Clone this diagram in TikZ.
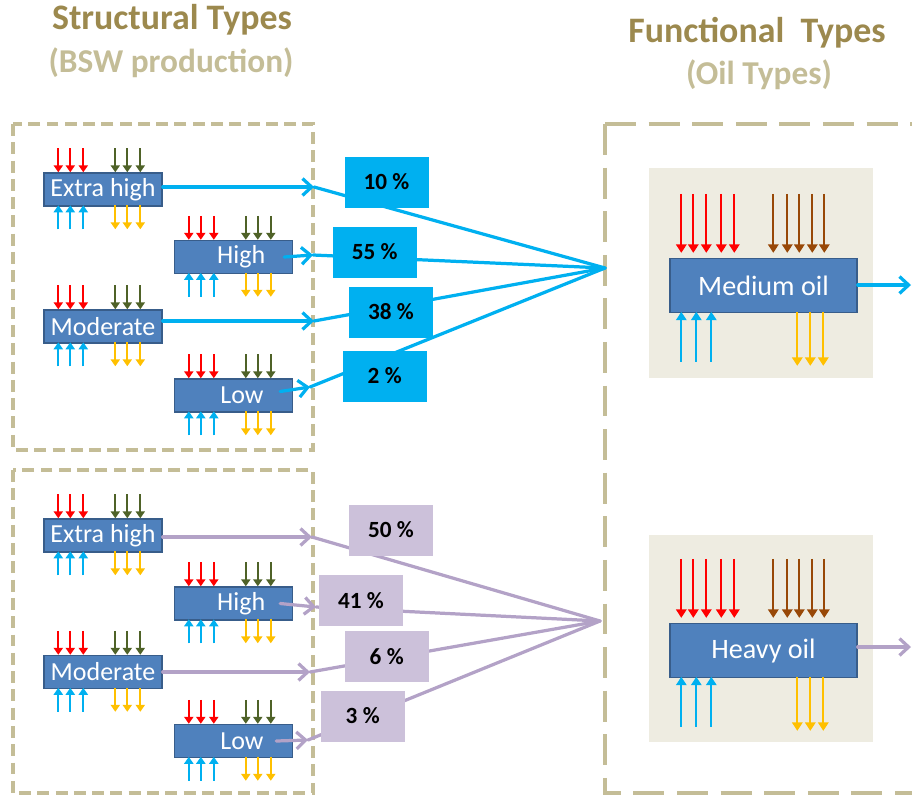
\documentclass[tikz,border=0pt]{standalone}
\usepackage{fontspec}
\setmainfont{Carlito}
\usetikzlibrary{arrows.meta}

\definecolor{boxblue}{HTML}{4F81BD}
\definecolor{boxedge}{HTML}{385D8A}
\definecolor{cyanline}{HTML}{00B0F0}
\definecolor{lilacline}{HTML}{B3A2C7}
\definecolor{lilacfill}{HTML}{CCC1DA}
\definecolor{tanfill}{HTML}{EEECE1}
\definecolor{tandash}{HTML}{C4BD97}
\definecolor{titlegold}{RGB}{156,137,78}
\definecolor{flowred}{HTML}{FF0000}
\definecolor{flowgreen}{HTML}{4F6228}
\definecolor{flowbrown}{HTML}{984807}
\definecolor{flowyellow}{HTML}{FFC000}

\def\px{0.025cm}	% one pixel of the layout

\tikzset{
	typebox/.style = {draw = boxedge, fill = boxblue, line width = 1pt, text = white, inner sep = 0pt,
		minimum width = 118*\px, minimum height = 33*\px, font = \fontsize{18.5}{20}\selectfont},
	oilbox/.style = {typebox, minimum width = 187*\px, minimum height = 54*\px, font = \fontsize{20}{22}\selectfont},
	share/.style = {inner sep = 0pt, minimum width = 84*\px, minimum height = 51*\px, font = \fontsize{16.5}{18}\selectfont\bfseries},
	tick/.style = {line width = 1.4pt, -{Triangle[length = 5pt, width = 6.5pt]}},
	oiltick/.style = {line width = 1.2pt, -{Triangle[length = 6pt, width = 7.5pt]}},
	link/.style = {line width = 2.3pt, line cap = round},
	feed/.style = {link, -{Straight Barb[length = 6.5pt, width = 12pt]}},
	frame/.style = {draw = tandash, line width = 2.4pt, dash pattern = on 8.5pt off 4.5pt},
	heading/.style = {font = \fontsize{25.5}{28}\selectfont\bfseries},
	subheading/.style = {font = \fontsize{23.7}{26}\selectfont\bfseries, text = tandash}
}

% Small arrows round one structural box

\newcommand{\typeticks}[1]{%
	\begin{scope}[shift = {(#1.north west)}]
		\foreach \dx in {15, 27, 40} {
			\draw [tick, flowred] (\dx, -24) -- (\dx, 0);
			\draw [tick, cyanline] (\dx, 57) -- (\dx, 33);
		}
		\foreach \dx in {72, 84, 97} {
			\draw [tick, flowgreen] (\dx, -24) -- (\dx, 0);
			\draw [tick, flowyellow] (\dx, 33) -- (\dx, 57);
		}
	\end{scope}}

% Arrows round one oil box

\newcommand{\oilticks}[1]{%
	\begin{scope}[shift = {(#1.north west)}]
		\foreach \dx in {12, 24, 37, 52, 65}
			\draw [oiltick, flowred] (\dx, -64) -- (\dx, -5);
		\foreach \dx in {104, 118, 130, 143, 155}
			\draw [oiltick, flowbrown] (\dx, -64) -- (\dx, -5);
		\foreach \dx in {12, 27, 42}
			\draw [oiltick, cyanline] (\dx, 104) -- (\dx, 54);
		\foreach \dx in {128, 141, 154}
			\draw [oiltick, flowyellow] (\dx, 54) -- (\dx, 108);
	\end{scope}}

\begin{document}
\begin{tikzpicture}[x = \px, y = -\px]

	\useasboundingbox (0, 0) rectangle (912, 796);

	% Headings

	\node [heading, text = titlegold] (struct) at (172, 20) {Structural Types};
	\node [subheading] (bsw) at (171, 63) {(BSW production)};
	\node [heading, text = titlegold] (func) at (757, 33) {Functional\ \ Types};
	\node [subheading] (oils) at (759, 75) {(Oil Types)};

	% Frames

	\draw [frame] (13, 124) rectangle (313, 450);
	\draw [frame] (13, 470) rectangle (313, 793);
	\draw [frame, line width = 2.7pt, dash pattern = on 22pt off 9pt] (605, 124) -- (940, 124);
	\draw [frame, line width = 2.7pt, dash pattern = on 22pt off 9pt] (605, 124) -- (605, 793) -- (940, 793);

	\fill [tanfill] (649, 168) rectangle (873, 378);
	\fill [tanfill] (649, 535) rectangle (873, 742);

	% Join points

	\coordinate (t1) at (314, 187);
	\coordinate (t2) at (313, 255);
	\coordinate (t3) at (314, 321);
	\coordinate (t4) at (310, 387);
	\coordinate (c1) at (605, 268);

	\coordinate (t5) at (312, 537);
	\coordinate (t6) at (316, 607);
	\coordinate (t7) at (310, 672);
	\coordinate (t8) at (308, 740);
	\coordinate (c2) at (600, 621);

	\coordinate (o1) at (911, 285);
	\coordinate (o2) at (911, 647);

	% Shares, lines behind them

	\foreach \t in {t1, t2, t3, t4}
		\draw [link, cyanline] (\t) -- (c1);
	\foreach \t in {t5, t6, t7, t8}
		\draw [link, lilacline] (\t) -- (c2);

	\node [share, fill = cyanline] (p10) at (386.5, 182) {10 \%};
	\node [share, fill = cyanline] (p55) at (374.7, 252) {55 \%};
	\node [share, fill = cyanline] (p38) at (391, 312) {38 \%};
	\node [share, fill = cyanline] (p2) at (384.7, 376) {2 \%};

	\node [share, fill = lilacfill] (p50) at (391, 530) {50 \%};
	\node [share, fill = lilacfill] (p41) at (361, 600.5) {41 \%};
	\node [share, fill = lilacfill] (p6) at (386.7, 656.7) {6 \%};
	\node [share, fill = lilacfill] (p3) at (362.7, 716) {3 \%};

	% Structural boxes

	\node [typebox] (eh1) at (103, 189.5) {Extra high};
	\node [typebox] (hi1) at (233.5, 257) {\hspace{11pt}High};
	\node [typebox] (mo1) at (103, 326.5) {Moderate};
	\node [typebox] (lo1) at (233.5, 395.5) {\hspace{12pt}Low};

	\node [typebox] (eh2) at (103, 535.5) {Extra high};
	\node [typebox] (hi2) at (233.5, 603.5) {\hspace{11pt}High};
	\node [typebox] (mo2) at (103, 672) {Moderate};
	\node [typebox] (lo2) at (233.5, 741) {\hspace{12pt}Low};

	\foreach \b in {eh1, hi1, mo1, lo1, eh2, hi2, mo2, lo2}
		\typeticks{\b};

	\draw [feed, cyanline] (eh1.east |- t1) -- (t1);
	\draw [feed, cyanline] ([xshift = -9*\px] hi1.east) -- (t2);
	\draw [feed, cyanline] (mo1.east |- t3) -- (t3);
	\draw [feed, cyanline] ([shift = {(-13, -4)}] lo1.east) -- (t4);

	\draw [feed, lilacline] (eh2.east |- t5) -- (t5);
	\draw [feed, lilacline] ([xshift = -13*\px] hi2.east) -- (t6);
	\draw [feed, lilacline] (mo2.east |- t7) -- (t7);
	\draw [feed, lilacline] ([xshift = -17*\px] lo2.east) -- (t8);

	% Oil boxes

	\node [oilbox] (med) at (763.5, 285.5) {Medium oil};
	\node [oilbox] (hvy) at (763.5, 650.5) {Heavy oil\hspace{17.8pt}};

	\oilticks{med}
	\oilticks{hvy}

	\draw [feed, cyanline] (med.east |- o1) -- (o1);
	\draw [feed, lilacline] (hvy.east |- o2) -- (o2);

\end{tikzpicture}
\end{document}
